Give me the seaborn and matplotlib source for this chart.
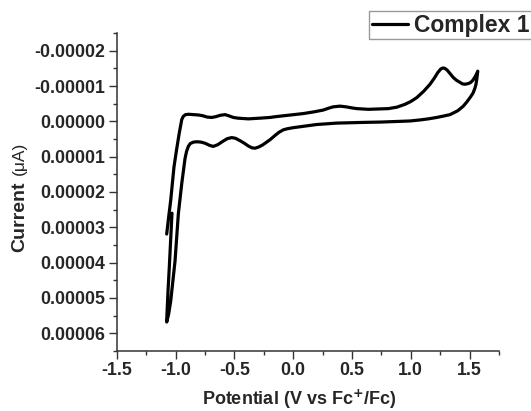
import numpy as np
import pandas as pd
import matplotlib
matplotlib.use("Agg")
import matplotlib.pyplot as plt
from matplotlib.ticker import FormatStrFormatter, MultipleLocator
import seaborn as sns

# Potential (V vs Fc+/Fc) in drawing order
potential = [
    # left rising line up to upper branch
    -1.075, -1.058, -1.041, -1.027, -1.013, -0.99, -0.968, -0.955, -0.947, -0.934,
    -0.915, -0.89,
    # upper (forward) branch
    -0.85, -0.806, -0.77, -0.73, -0.692, -0.66, -0.62, -0.579, -0.55, -0.508,
    -0.47, -0.43, -0.381, -0.33, -0.28, -0.196, -0.154, -0.05, 0.087, 0.18,
    0.257, 0.30, 0.34, 0.399, 0.45, 0.50, 0.541, 0.64, 0.739, 0.81,
    0.881, 0.95, 1.00, 1.051, 1.11, 1.164, 1.20, 1.23, 1.255, 1.272,
    1.29, 1.31, 1.335, 1.362, 1.39, 1.42, 1.44, 1.462, 1.49, 1.51,
    1.53, 1.545, 1.56, 1.57,
    # lower (reverse) branch
    1.562, 1.555, 1.547, 1.53, 1.504, 1.475, 1.447, 1.40, 1.334, 1.28,
    1.221, 1.15, 1.08, 0.994, 0.909, 0.75, 0.6, 0.371, 0.2, 0.087,
    0.0, -0.05, -0.083, -0.12, -0.154, -0.196, -0.23, -0.26, -0.295, -0.324,
    -0.35, -0.38, -0.415, -0.45, -0.49, -0.522, -0.56, -0.60, -0.64, -0.679,
    -0.71, -0.749, -0.78, -0.806, -0.83, -0.849, -0.875, -0.891, -0.906, -0.919,
    -0.933, -0.947, -0.962, -0.976, -0.99, -1.004, -1.023, -1.041, -1.058, -1.07,
    -1.075,
    # short return stroke
    -1.072, -1.063, -1.053, -1.042, -1.03,
]
# Current in units of 1e-5
current_e5 = [
    3.19, 2.7, 2.24, 1.75, 1.29, 0.78, 0.33, 0.10, -0.05, -0.14,
    -0.19, -0.20,
    -0.19, -0.18, -0.16, -0.12, -0.11, -0.13, -0.17, -0.19, -0.16, -0.11,
    -0.09, -0.08, -0.07, -0.08, -0.09, -0.11, -0.13, -0.17, -0.22, -0.27,
    -0.32, -0.37, -0.41, -0.43, -0.41, -0.38, -0.36, -0.34, -0.35, -0.36,
    -0.40, -0.48, -0.56, -0.67, -0.85, -1.05, -1.22, -1.38, -1.48, -1.51,
    -1.50, -1.45, -1.35, -1.24, -1.16, -1.10, -1.06, -1.05, -1.07, -1.10,
    -1.17, -1.25, -1.34, -1.42,
    -1.20, -1.05, -0.95, -0.80, -0.67, -0.54, -0.43, -0.30, -0.19, -0.15,
    -0.11, -0.07, -0.04, -0.01, 0.0, 0.02, 0.03, 0.05, 0.09, 0.14,
    0.18, 0.21, 0.24, 0.31, 0.40, 0.52, 0.60, 0.67, 0.73, 0.76,
    0.75, 0.70, 0.62, 0.55, 0.48, 0.46, 0.49, 0.57, 0.66, 0.71,
    0.68, 0.62, 0.59, 0.58, 0.58, 0.59, 0.63, 0.71, 0.85, 1.05,
    1.40, 1.76, 2.20, 2.62, 3.30, 3.95, 4.55, 5.09, 5.45, 5.62,
    5.68,
    5.40, 4.75, 4.14, 3.40, 2.60,
]
series_name = "Complex 1"

x_ticks = [-1.5, -1.0, -0.5, 0.0, 0.5, 1.0, 1.5]
y_ticks = [-0.00002, -0.00001, 0.0, 0.00001, 0.00002, 0.00003, 0.00004, 0.00005, 0.00006]

df = pd.DataFrame({
    "Potential": potential,
    "Current": np.array(current_e5) * 1e-5,
    "series": series_name,
})

sns.set_style("ticks")
plt.rcParams["font.family"] = ["Liberation Sans", "DejaVu Sans"]
plt.rcParams["font.weight"] = "bold"

fig = plt.figure(figsize=(5.31, 4.11), dpi=100)
ax = fig.add_axes([0.2198, 0.146, 0.7198, 0.7737])

sns.lineplot(data=df, x="Potential", y="Current", hue="series", sort=False,
             estimator=None, palette=["black"], linewidth=2.3, ax=ax, legend=False)
for ln in ax.get_lines():
    ln.set_solid_joinstyle("round")
    ln.set_solid_capstyle("round")

ax.set_xlim(-1.5, 1.75)
ax.set_ylim(6.5e-5, -2.5e-5)
ax.set_xticks(x_ticks)
ax.set_yticks(y_ticks)
ax.xaxis.set_minor_locator(MultipleLocator(0.25))
ax.yaxis.set_minor_locator(MultipleLocator(0.5e-5))
ax.xaxis.set_major_formatter(FormatStrFormatter("%.1f"))
ax.yaxis.set_major_formatter(FormatStrFormatter("%.5f"))

for side in ["top", "right"]:
    ax.spines[side].set_visible(False)
for side in ["left", "bottom"]:
    ax.spines[side].set_color("#333333")
    ax.spines[side].set_linewidth(1.1)

ax.tick_params(axis="both", which="major", direction="out", length=5.5, width=1.0,
               color="#333333", labelsize=12.8, pad=2.5)
ax.tick_params(axis="both", which="minor", direction="out", length=3, width=1.0,
               color="#333333")
for lab in ax.get_xticklabels() + ax.get_yticklabels():
    lab.set_fontweight("bold")

ax.set_xlabel("Potential (V vs Fc$^{\\mathbf{+}}$/Fc)", fontsize=13, fontweight="bold")
ax.xaxis.set_label_coords(0.477, -0.115)
ax.set_ylabel("")
ax.text(-0.254, 0.421, "Current", rotation=90, transform=ax.transAxes,
        ha="center", va="center", fontsize=14, fontweight="bold")
ax.text(-0.254, 0.605, "(μA)", rotation=90, transform=ax.transAxes,
        ha="center", va="center", fontsize=12.5, fontweight="normal")

handle = plt.Line2D([], [], color="black", linewidth=2.3)
leg = fig.legend([handle], [series_name], loc="upper left",
                 bbox_to_anchor=(369 / 531, 1 - 11 / 411),
                 bbox_transform=fig.transFigure,
                 prop={"size": 16.5, "weight": "bold"},
                 handlelength=1.6, handletextpad=0.25, borderpad=0.12,
                 borderaxespad=0, fancybox=False, framealpha=1)
leg.get_frame().set_edgecolor("#999999")
leg.get_frame().set_linewidth(1.0)

fig.savefig("out.png", dpi=100)
